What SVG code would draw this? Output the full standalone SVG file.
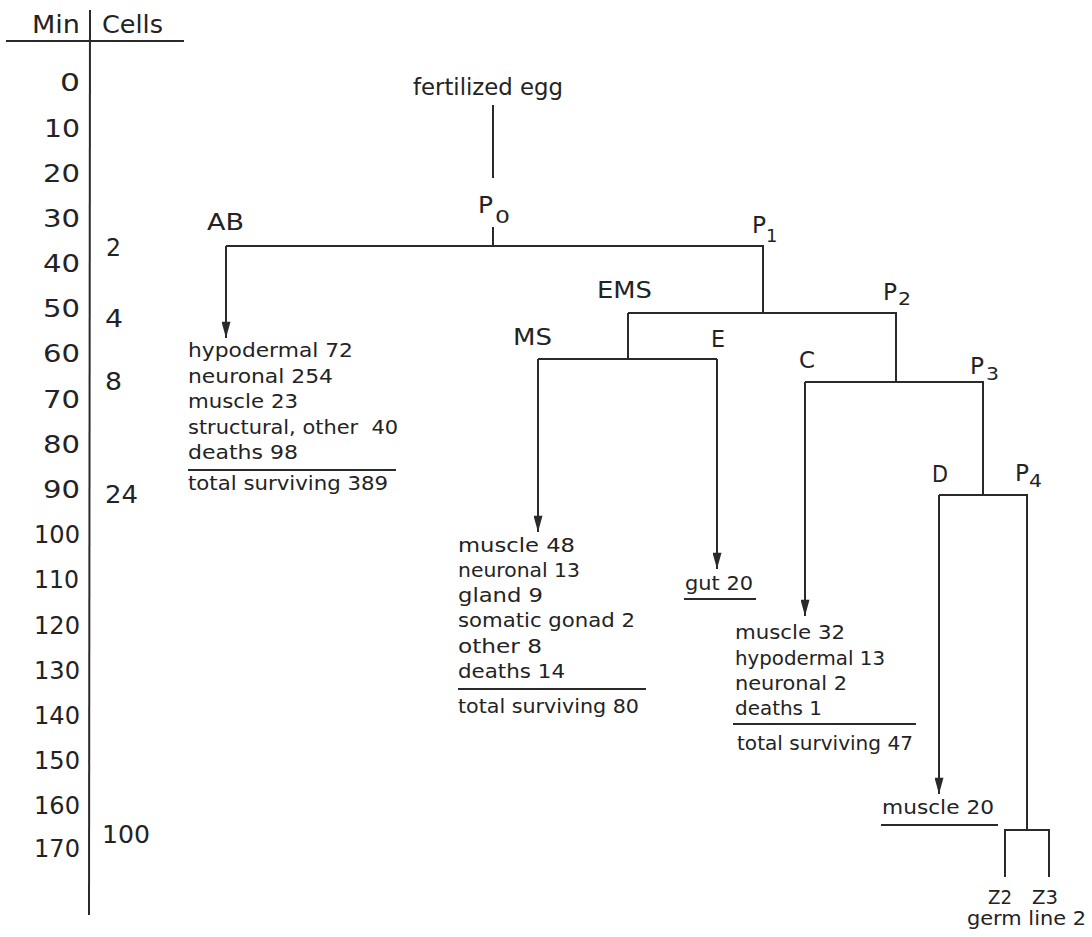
<svg xmlns="http://www.w3.org/2000/svg" width="1092" height="937" viewBox="0 0 1092 937">
<defs>
<style>
text{font-family:"DejaVu Sans","Liberation Sans",sans-serif;fill:#232323}
.ax{font-size:25px}
.axr{font-size:25px;text-anchor:end}
.lbl{font-size:23px}
.sub{font-size:18px}
.lst{font-size:19.5px}
.ln{stroke:#2a2a2a;stroke-width:2;fill:none}
.rule{stroke:#2a2a2a;stroke-width:2}
</style>
<marker id="arr" viewBox="0 0 18 10" refX="18" refY="5" markerWidth="18" markerHeight="9" markerUnits="userSpaceOnUse" orient="auto">
<path d="M0,0 L18,5 L0,10 Z" fill="#2a2a2a"/>
</marker>
</defs>
<rect width="1092" height="937" fill="#ffffff"/>

<g id="axis">
<line class="rule" x1="6" y1="41" x2="184" y2="41"/>
<line class="rule" x1="90" y1="10" x2="89" y2="915"/>
<text class="ax" x="32" y="33" textLength="48" lengthAdjust="spacingAndGlyphs">Min</text>
<text class="ax" x="102" y="33" textLength="61" lengthAdjust="spacingAndGlyphs">Cells</text>
<text class="axr" x="80" y="91" textLength="20" lengthAdjust="spacingAndGlyphs">0</text>
<text class="axr" x="80" y="137" textLength="36" lengthAdjust="spacingAndGlyphs">10</text>
<text class="axr" x="80" y="182" textLength="37" lengthAdjust="spacingAndGlyphs">20</text>
<text class="axr" x="80" y="227" textLength="37" lengthAdjust="spacingAndGlyphs">30</text>
<text class="axr" x="80" y="272" textLength="37" lengthAdjust="spacingAndGlyphs">40</text>
<text class="axr" x="80" y="317" textLength="37" lengthAdjust="spacingAndGlyphs">50</text>
<text class="axr" x="80" y="362" textLength="37" lengthAdjust="spacingAndGlyphs">60</text>
<text class="axr" x="80" y="408" textLength="37" lengthAdjust="spacingAndGlyphs">70</text>
<text class="axr" x="80" y="453" textLength="37" lengthAdjust="spacingAndGlyphs">80</text>
<text class="axr" x="80" y="498" textLength="37" lengthAdjust="spacingAndGlyphs">90</text>
<text class="axr" x="80" y="543" textLength="46" lengthAdjust="spacingAndGlyphs">100</text>
<text class="axr" x="79" y="588" textLength="45" lengthAdjust="spacingAndGlyphs">110</text>
<text class="axr" x="80" y="634" textLength="46" lengthAdjust="spacingAndGlyphs">120</text>
<text class="axr" x="80" y="679" textLength="46" lengthAdjust="spacingAndGlyphs">130</text>
<text class="axr" x="80" y="724" textLength="46" lengthAdjust="spacingAndGlyphs">140</text>
<text class="axr" x="80" y="769" textLength="46" lengthAdjust="spacingAndGlyphs">150</text>
<text class="axr" x="80" y="814" textLength="46" lengthAdjust="spacingAndGlyphs">160</text>
<text class="axr" x="80" y="857" textLength="46" lengthAdjust="spacingAndGlyphs">170</text>
<text class="ax" x="106" y="256" textLength="15" lengthAdjust="spacingAndGlyphs">2</text>
<text class="ax" x="105" y="327" textLength="18" lengthAdjust="spacingAndGlyphs">4</text>
<text class="ax" x="105" y="390" textLength="17" lengthAdjust="spacingAndGlyphs">8</text>
<text class="ax" x="105" y="503" textLength="33" lengthAdjust="spacingAndGlyphs">24</text>
<text class="ax" x="102" y="843" textLength="48" lengthAdjust="spacingAndGlyphs">100</text>
</g>

<g id="connectors">
<line class="ln" x1="493" y1="105" x2="493" y2="178"/>
<line class="ln" x1="493" y1="227" x2="493" y2="246"/>
<polyline class="ln" points="226,246 763,246 763,313"/>
<line class="ln" x1="226" y1="246" x2="226" y2="338" marker-end="url(#arr)"/>
<polyline class="ln" points="628,313 896,313 896,382"/>
<line class="ln" x1="628" y1="313" x2="628" y2="359"/>
<line class="ln" x1="538" y1="359" x2="717" y2="359"/>
<line class="ln" x1="538" y1="359" x2="538" y2="532" marker-end="url(#arr)"/>
<line class="ln" x1="717" y1="359" x2="717" y2="569" marker-end="url(#arr)"/>
<polyline class="ln" points="805,382 983,382 983,495"/>
<line class="ln" x1="805" y1="382" x2="805" y2="616" marker-end="url(#arr)"/>
<polyline class="ln" points="939,495 1027,495 1027,830"/>
<line class="ln" x1="939" y1="495" x2="939" y2="794" marker-end="url(#arr)"/>
<polyline class="ln" points="1005,877 1005,830 1049,830 1049,877"/>
</g>

<g id="egg"><text x="413" y="95" style="font-size:23px" textLength="150" lengthAdjust="spacingAndGlyphs">fertilized egg</text></g>
<g id="P0"><text class="lbl" x="478" y="213" textLength="15" lengthAdjust="spacingAndGlyphs">P</text><text class="sub" x="495" y="223" textLength="15" lengthAdjust="spacingAndGlyphs">0</text></g>
<g id="AB"><text class="lbl" x="207" y="230" textLength="37" lengthAdjust="spacingAndGlyphs">AB</text></g>
<g id="P1"><text class="lbl" x="752" y="233" textLength="14" lengthAdjust="spacingAndGlyphs">P</text><text class="sub" x="766" y="242">1</text></g>
<g id="EMS"><text class="lbl" x="597" y="298" textLength="55" lengthAdjust="spacingAndGlyphs">EMS</text></g>
<g id="P2"><text class="lbl" x="883" y="300" textLength="14" lengthAdjust="spacingAndGlyphs">P</text><text class="sub" x="898" y="305" textLength="13" lengthAdjust="spacingAndGlyphs">2</text></g>
<g id="MS"><text class="lbl" x="513" y="345" textLength="39" lengthAdjust="spacingAndGlyphs">MS</text></g>
<g id="E"><text class="lbl" x="711" y="347" textLength="14" lengthAdjust="spacingAndGlyphs">E</text></g>
<g id="C"><text class="lbl" x="799" y="368" textLength="16" lengthAdjust="spacingAndGlyphs">C</text></g>
<g id="P3"><text class="lbl" x="970" y="374" textLength="14" lengthAdjust="spacingAndGlyphs">P</text><text class="sub" x="986" y="380" textLength="13" lengthAdjust="spacingAndGlyphs">3</text></g>
<g id="D"><text class="lbl" x="932" y="482" textLength="16" lengthAdjust="spacingAndGlyphs">D</text></g>
<g id="P4"><text class="lbl" x="1015" y="481" textLength="14" lengthAdjust="spacingAndGlyphs">P</text><text class="sub" x="1029" y="487" textLength="13" lengthAdjust="spacingAndGlyphs">4</text></g>

<g id="AB-fates">
<text class="lst" x="188" y="357" textLength="165" lengthAdjust="spacingAndGlyphs">hypodermal 72</text>
<text class="lst" x="188" y="383" textLength="145" lengthAdjust="spacingAndGlyphs">neuronal 254</text>
<text class="lst" x="188" y="408" textLength="110" lengthAdjust="spacingAndGlyphs">muscle 23</text>
<text class="lst" x="188" y="434" textLength="210" lengthAdjust="spacingAndGlyphs" xml:space="preserve">structural, other  40</text>
<text class="lst" x="188" y="459" textLength="110" lengthAdjust="spacingAndGlyphs">deaths 98</text>
<line class="rule" x1="188" y1="470" x2="396" y2="470"/>
<text class="lst" x="188" y="490" textLength="200" lengthAdjust="spacingAndGlyphs">total surviving 389</text>
</g>

<g id="MS-fates">
<text class="lst" x="458" y="552" textLength="117" lengthAdjust="spacingAndGlyphs">muscle 48</text>
<text class="lst" x="458" y="577" textLength="122" lengthAdjust="spacingAndGlyphs">neuronal 13</text>
<text class="lst" x="458" y="602" textLength="85" lengthAdjust="spacingAndGlyphs">gland 9</text>
<text class="lst" x="458" y="627" textLength="177" lengthAdjust="spacingAndGlyphs">somatic gonad 2</text>
<text class="lst" x="458" y="653" textLength="84" lengthAdjust="spacingAndGlyphs">other 8</text>
<text class="lst" x="458" y="678" textLength="107" lengthAdjust="spacingAndGlyphs">deaths 14</text>
<line class="rule" x1="458" y1="689" x2="646" y2="689"/>
<text class="lst" x="458" y="713" textLength="181" lengthAdjust="spacingAndGlyphs">total surviving 80</text>
</g>

<g id="E-fates">
<text class="lst" x="685" y="590" textLength="68" lengthAdjust="spacingAndGlyphs">gut 20</text>
<line class="rule" x1="684" y1="599" x2="756" y2="599"/>
</g>

<g id="C-fates">
<text class="lst" x="735" y="639" textLength="110" lengthAdjust="spacingAndGlyphs">muscle 32</text>
<text class="lst" x="735" y="665" textLength="150" lengthAdjust="spacingAndGlyphs">hypodermal 13</text>
<text class="lst" x="735" y="690" textLength="112" lengthAdjust="spacingAndGlyphs">neuronal 2</text>
<text class="lst" x="735" y="715" textLength="87" lengthAdjust="spacingAndGlyphs">deaths 1</text>
<line class="rule" x1="733" y1="724" x2="916" y2="724"/>
<text class="lst" x="737" y="750" textLength="176" lengthAdjust="spacingAndGlyphs">total surviving 47</text>
</g>

<g id="D-fates">
<text class="lst" x="882" y="814" textLength="112" lengthAdjust="spacingAndGlyphs">muscle 20</text>
<line class="rule" x1="881" y1="825" x2="998" y2="825"/>
</g>

<g id="Z2"><text style="font-size:20px" x="988" y="904" textLength="24" lengthAdjust="spacingAndGlyphs">Z2</text></g>
<g id="Z3"><text style="font-size:20px" x="1032" y="904" textLength="26" lengthAdjust="spacingAndGlyphs">Z3</text></g>
<g id="germ"><text class="lst" x="967" y="925" textLength="119" lengthAdjust="spacingAndGlyphs">germ line 2</text></g>
</svg>
